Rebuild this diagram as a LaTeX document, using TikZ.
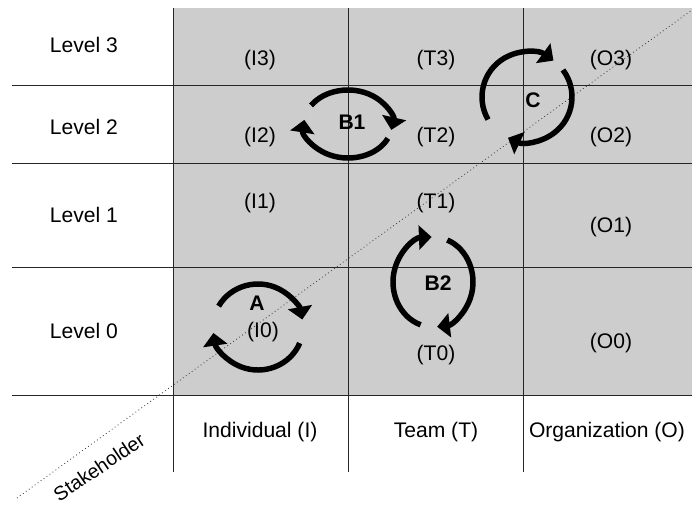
\documentclass[tikz,border=0pt]{standalone}
\usepackage{fontspec}
\setmainfont{Liberation Sans}
\usetikzlibrary{arrows.meta}

\tikzset{
    cellLabel/.style={font=\fontsize{15}{18}\selectfont, inner sep=1pt},
    loopLabel/.style={font=\fontsize{15}{18}\selectfont\bfseries, inner sep=1pt},
    loopArc/.style={line width=3.9pt, -{Triangle[width=17pt,length=9pt]}}
}

\begin{document}
\begin{tikzpicture}[x=0.025cm, y=-0.025cm]
    % Define table limits (pixel units, y downwards)
    \def\gridTop{8}
    \def\gridBottom{395}
    \def\tableBottom{472}
    \def\lineStart{12}
    \def\rightEdge{692}

    \definecolor{lineColour}{HTML}{262626}
    \definecolor{fillColour}{HTML}{CDCDCD}

    \useasboundingbox (0,0) rectangle (692,508);

    % Shade the matrix
    \fill[fillColour] (173,\gridTop) rectangle (\rightEdge,\gridBottom);

    % Draw row and column lines
    \foreach \y in {85,163,267,395}
        \draw[lineColour, line width=0.7pt] (\lineStart,\y) -- (\rightEdge,\y);
    \foreach \x in {173,348,523}
        \draw[lineColour, line width=0.7pt] (\x,\gridTop) -- (\x,\tableBottom);

    % Level labels
    \foreach \lvl/\y in {3/45, 2/127, 1/215, 0/331}
        \node[cellLabel] (level\lvl) at (84,\y) {Level \lvl};

    % Stakeholder labels
    \node[cellLabel] (colI) at (260,432) {Individual (I)};
    \node[cellLabel] (colT) at (436,432) {Team (T)};
    \node[cellLabel] (colO) at (607,432) {Organization (O)};

    % Cell labels
    \foreach \name/\x/\y in {I3/260/60, T3/436/60, O3/611/60,
                             I2/260/137, T2/436/137, O2/611/137,
                             I1/260/203, T1/436/203, O1/611/227,
                             I0/263/332, T0/436/355, O0/611/343}
        \node[cellLabel] (cell\name) at (\x,\y) {(\name)};

    % Diagonal header line
    \coordinate (diagStart) at (17,498);
    \coordinate (diagEnd) at (692,10);
    \draw[dotted, gray!50!black, line width=0.6pt] (diagStart) -- (diagEnd);
    \node[cellLabel, font=\fontsize{14}{17}\selectfont, rotate=34] (stakeholder) at (99,467) {Stakeholder};

    % Loop A
    \coordinate (loopA) at (258,327);
    \draw[loopArc] (loopA) ++(209:45 and 43) arc[start angle=209, end angle=350, x radius=45, y radius=43];
    \draw[loopArc] (loopA) ++(22:45 and 43) arc[start angle=22, end angle=172, x radius=45, y radius=43];
    \node[loopLabel] (labelA) at (257,303) {A};

    % Loop B1
    \coordinate (loopB1) at (348,124);
    \draw[loopArc] (loopB1) ++(213:44 and 34) arc[start angle=213, end angle=370, x radius=44, y radius=34];
    \draw[loopArc] (loopB1) ++(25:44 and 34) arc[start angle=25, end angle=187, x radius=44, y radius=34];
    \node[loopLabel] (labelB1) at (352,122) {B1};

    % Loop B2
    \coordinate (loopB2) at (433,282);
    \draw[loopArc] (loopB2) ++(108:40 and 45) arc[start angle=108, end angle=268, x radius=40, y radius=45];
    \draw[loopArc] (loopB2) ++(291:40 and 45) arc[start angle=291, end angle=444, x radius=40, y radius=45];
    \node[loopLabel] (labelB2) at (438,283) {B2};

    % Loop C
    \coordinate (loopC) at (527,97);
    \draw[loopArc] (loopC) ++(150:45 and 45) arc[start angle=150, end angle=306, x radius=45, y radius=45];
    \draw[loopArc] (loopC) ++(323:45 and 45) arc[start angle=323, end angle=475, x radius=45, y radius=45];
    \node[loopLabel] (labelC) at (533,100) {C};

\end{tikzpicture}
\end{document}
